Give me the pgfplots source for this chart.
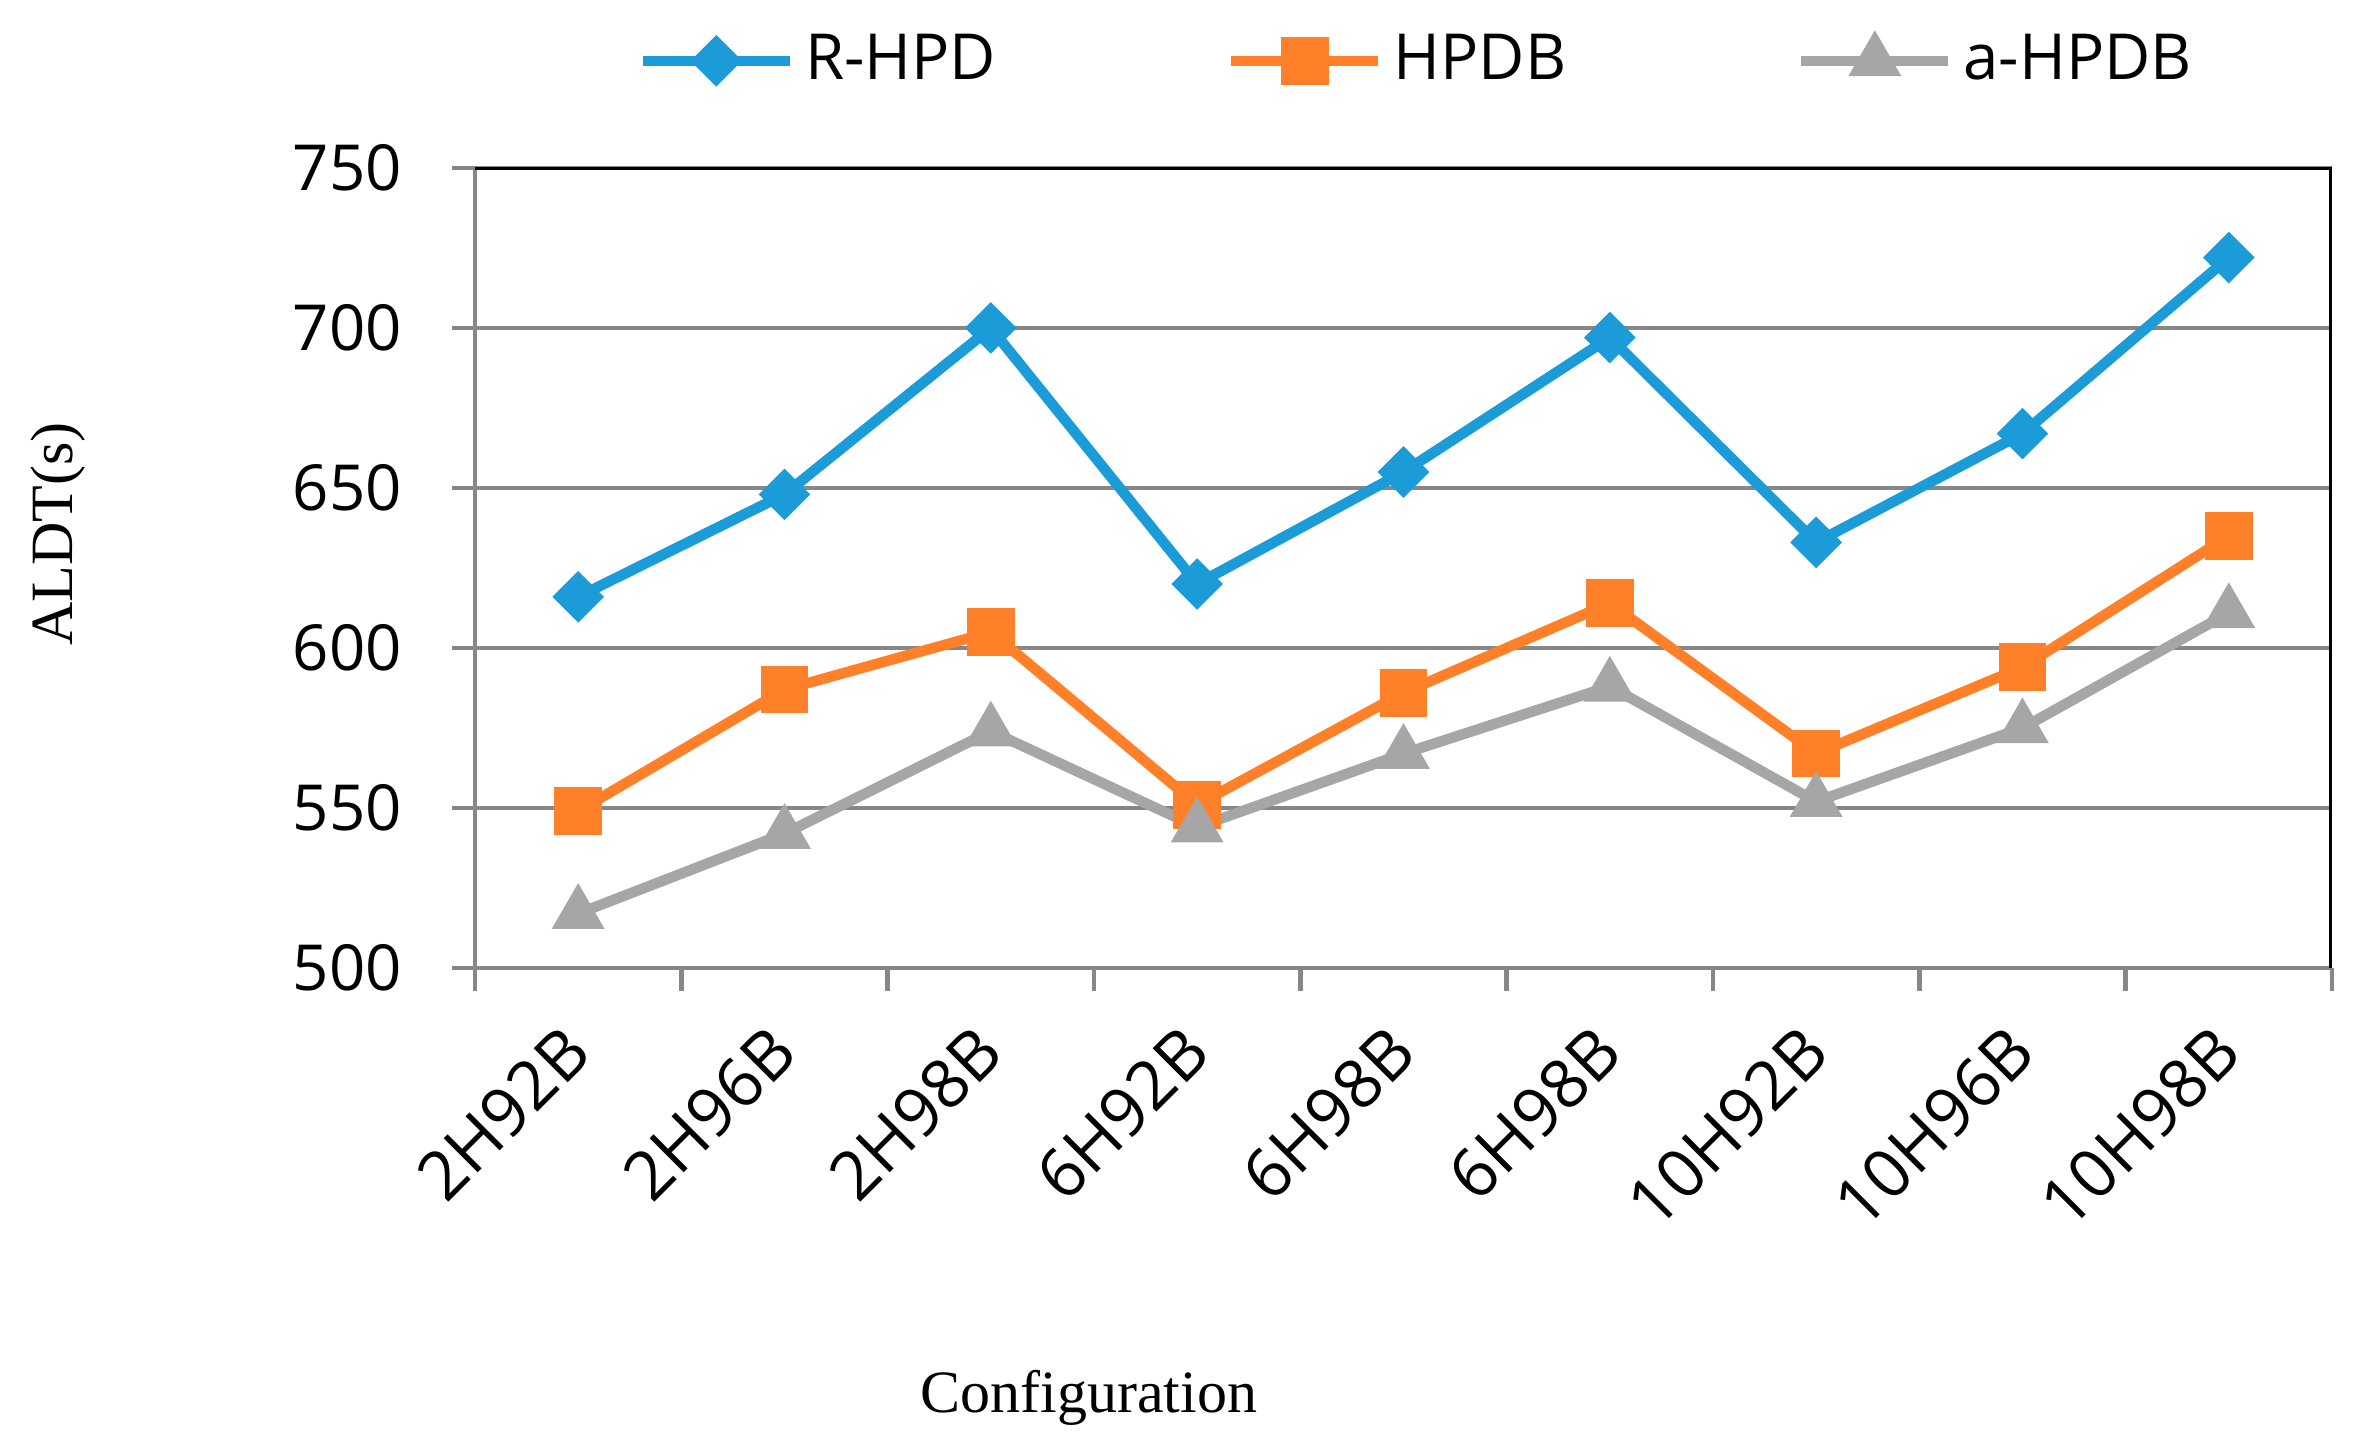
\documentclass[border=0pt]{standalone}
\usepackage{fontspec}
\usepackage{pgfplots}
\pgfplotsset{compat=1.18}
\setmainfont{Liberation Serif}
\newfontfamily\opensans{Open Sans}

\definecolor{rblue}{RGB}{27,155,215}
\definecolor{horange}{RGB}{255,128,40}
\definecolor{agray}{RGB}{166,166,166}
\definecolor{gridgray}{RGB}{135,135,135}

\begin{document}
\begin{tikzpicture}
\begin{axis}[
    scale only axis, width=371.4pt, height=160pt,
    xmin=-0.5, xmax=8.5, ymin=500, ymax=750,
    axis x line*=bottom, axis y line*=left,
    axis line style={gridgray, line width=0.9pt, -},
    xtick={0,...,8},
    xticklabels={2H92B,2H96B,2H98B,6H92B,6H98B,6H98B,10H92B,10H96B,10H98B},
    minor xtick={-0.5,0.5,...,8.5},
    major x tick style={draw=none},
    minor x tick style={gridgray, line width=0.9pt},
    minor tick length=4.6pt,
    ytick={500,550,...,750},
    major y tick style={gridgray, line width=0.9pt},
    major tick length=4.6pt,
    tick align=outside,
    ymajorgrids, grid style={gridgray, line width=0.65pt},
    /pgf/number format/assume math mode=true,
    yticklabel style={font=\opensans\fontsize{12.7}{14}\selectfont, xshift=-6.5pt},
    % shifts below act in the rotated frame
    xticklabel style={font=\opensans\fontsize{13.5}{15}\selectfont, rotate=45, anchor=east, yshift=-6.7pt, xshift=-3.5pt},
    xlabel={Configuration},
    xlabel style={font=\fontsize{12}{14}\selectfont, at={(axis description cs:0.3306,-0.556)}, anchor=base},
    ylabel={ALDT(s)},
    ylabel style={font=\fontsize{12}{14}\selectfont, at={(axis description cs:-0.217,0.5425)}, anchor=base},
    legend columns=3,
    legend style={draw=none, at={(axis description cs:0.087,1.134)}, anchor=west, inner sep=0pt,
        font=\opensans\fontsize{12.7}{14}\selectfont,
        /tikz/every even column/.append style={column sep=44pt}},
    legend image code/.code={\draw[mark repeat=2,mark phase=2,#1] plot coordinates {(0pt,0pt)(14.7pt,0pt)(29.4pt,0pt)};},
    every axis plot/.append style={line width=2.1pt},
]
\addplot[rblue, mark=square*, mark size=2.6pt, mark options={rotate=45, solid}] coordinates {
    (0,616) (1,648) (2,700) (3,620) (4,655) (5,697) (6,633) (7,667) (8,722)};
\addlegendentry{R-HPD}
\addplot[horange, mark=square*, mark size=3.7pt, mark options={solid}] coordinates {
    (0,549) (1,587) (2,605) (3,551) (4,586) (5,614) (6,567) (7,594) (8,635)};
\addlegendentry{HPDB}
\addplot[agray, mark=triangle*, mark size=4pt, mark options={solid}] coordinates {
    (0,517) (1,542) (2,574) (3,544) (4,567) (5,588) (6,552) (7,575) (8,611)};
\addlegendentry{a-HPDB}
\coordinate (sw) at (rel axis cs:0,0);
\draw[black, line width=1pt] (rel axis cs:0,1) -- (rel axis cs:1,1) -- (rel axis cs:1,0);
\end{axis}
\pgfresetboundingbox
\path[use as bounding box] ([shift={(-95pt,-97.2pt)}]sw) rectangle ([shift={(378.4pt,193.6pt)}]sw);
\end{tikzpicture}
\end{document}
